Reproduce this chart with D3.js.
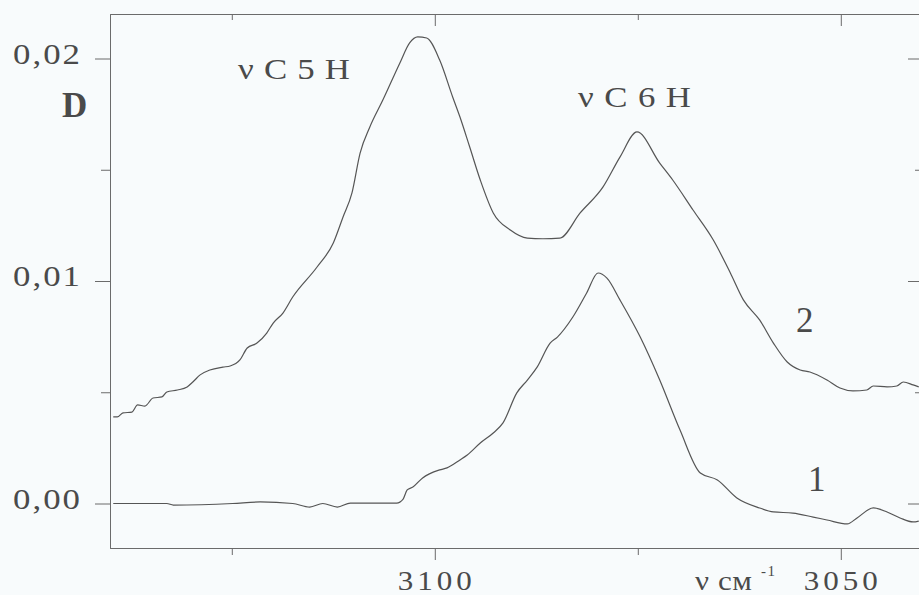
<!DOCTYPE html>
<html>
<head>
<meta charset="utf-8">
<script src="https://cdn.jsdelivr.net/npm/d3@7"></script>
<style>
  body { margin: 0; background: #f8fbfc; }
  svg { display: block; }
  .axis path, .axis line { stroke: #6b6b6b; stroke-width: 1; }
  text { font-family: "Liberation Serif", "Times New Roman", serif; fill: #4a4a4a; }
</style>
</head>
<body>
<div id="chart"></div>
<script>
// Spectrum 2 (upper curve): wavenumber, cm-1 and optical density D
const curve2Wn = [3139.6, 3139.1, 3138.4, 3137.3, 3136.6, 3135.7, 3134.7, 3133.6, 3133.0, 3131.7,
  3130.5, 3129.8, 3128.9, 3127.7, 3126.1, 3125.2, 3124.0, 3123.1, 3121.9, 3120.7,
  3119.9, 3118.7, 3117.5, 3114.5, 3112.5, 3111.3, 3110.2, 3109.2, 3108.0, 3106.4,
  3104.3, 3103.1, 3102.1, 3101.0, 3099.4, 3097.8, 3096.9, 3095.7, 3094.4, 3092.8,
  3090.7, 3088.6, 3086.7, 3084.6, 3082.1, 3079.3, 3077.2, 3075.1, 3072.3, 3070.7,
  3068.2, 3065.7, 3063.6, 3062.0, 3060.0, 3058.3, 3056.6, 3055.0, 3053.8, 3051.7,
  3050.1, 3048.5, 3046.8, 3046.0, 3044.3, 3043.1, 3042.3, 3041.1, 3040.4];
const curve2D = [0.00389, 0.00389, 0.00407, 0.00411, 0.00443, 0.00438, 0.00474, 0.00479, 0.00501, 0.00510,
  0.00524, 0.00546, 0.00578, 0.00600, 0.00613, 0.00618, 0.00645, 0.00699, 0.00721, 0.00766,
  0.00811, 0.00856, 0.00928, 0.01063, 0.01171, 0.01288, 0.01396, 0.01575, 0.01692, 0.01813,
  0.01980, 0.02070, 0.02097, 0.02092, 0.01993, 0.01827, 0.01737, 0.01602, 0.01454, 0.01306,
  0.01229, 0.01193, 0.01190, 0.01193, 0.01306, 0.01422, 0.01557, 0.01670, 0.01530, 0.01454,
  0.01319, 0.01184, 0.01036, 0.00915, 0.00825, 0.00721, 0.00636, 0.00600, 0.00591, 0.00555,
  0.00519, 0.00506, 0.00510, 0.00528, 0.00524, 0.00528, 0.00546, 0.00533, 0.00524];

// Spectrum 1 (lower curve)
const curve1Wn = [3139.6, 3133.0, 3132.2, 3124.9, 3121.5, 3117.5, 3115.4, 3113.8, 3112.0, 3110.4,
  3106.7, 3104.7, 3103.9, 3103.4, 3102.7, 3101.5, 3099.4, 3098.5, 3096.9, 3096.0,
  3094.4, 3092.8, 3091.6, 3089.9, 3088.6, 3087.4, 3085.8, 3084.9, 3083.0, 3081.3,
  3079.9, 3078.8, 3077.2, 3074.7, 3072.3, 3069.8, 3067.3, 3065.2, 3062.8, 3060.0,
  3058.3, 3055.9, 3053.4, 3051.7, 3049.2, 3048.0, 3046.0, 3044.3, 3042.7, 3041.1, 3040.4];
const curve1D = [0.00000, 0.00000, -0.00007, 0.00000, 0.00007, 0.00000, -0.00016, 0.00000, -0.00016, 0.00002,
  0.00002, 0.00002, 0.00020, 0.00061, 0.00074, 0.00115, 0.00151, 0.00160, 0.00196, 0.00218,
  0.00272, 0.00317, 0.00362, 0.00497, 0.00555, 0.00613, 0.00721, 0.00748, 0.00838, 0.00946,
  0.01036, 0.01013, 0.00915, 0.00748, 0.00555, 0.00330, 0.00137, 0.00106, 0.00025, -0.00020,
  -0.00038, -0.00043, -0.00061, -0.00074, -0.00092, -0.00065, -0.00020, -0.00038, -0.00065, -0.00083, -0.00079];

// Ticks
const xMajorTicks = [3100, 3050];
const xMinorTicks = [3125, 3075];
const yMajorTicks = [0, 0.01, 0.02];
const yMinorTicks = [0.005, 0.015];

const width = 919, height = 595;
const margin = { top: 14, right: -3, bottom: 47, left: 110 };

const svg = d3.select("#chart")
  .append("svg")
  .attr("width", width)
  .attr("height", height);

const x = d3.scaleLinear()
  .domain([3140, 3040])
  .range([margin.left, width - margin.right]);

const y = d3.scaleLinear()
  .domain([-0.002, 0.022])
  .range([height - margin.bottom, margin.top]);

const yFmt = d => d3.format(".2f")(d).replace(".", ",");

// Frame with ticks on every side
function addAxis(axis, tx, ty) {
  return svg.append("g")
    .attr("class", "axis")
    .attr("transform", `translate(${tx},${ty})`)
    .call(axis);
}
const bottomY = height - margin.bottom;
const rightX = width - margin.right;

addAxis(d3.axisBottom(x).tickValues(xMajorTicks).tickSize(12).tickSizeOuter(0).tickFormat(""), 0, bottomY);
addAxis(d3.axisBottom(x).tickValues(xMinorTicks).tickSize(7).tickSizeOuter(0).tickFormat(""), 0, bottomY);
addAxis(d3.axisTop(x).tickValues(xMajorTicks).tickSize(-12).tickSizeOuter(0).tickFormat(""), 0, margin.top);
addAxis(d3.axisTop(x).tickValues(xMinorTicks).tickSize(-6).tickSizeOuter(0).tickFormat(""), 0, margin.top);
addAxis(d3.axisLeft(y).tickValues(yMajorTicks).tickSize(15).tickSizeOuter(0).tickFormat(""), margin.left, 0);
addAxis(d3.axisLeft(y).tickValues(yMinorTicks).tickSize(9).tickSizeOuter(0).tickFormat(""), margin.left, 0);
addAxis(d3.axisRight(y).tickValues(yMajorTicks).tickSize(-14).tickSizeOuter(0).tickFormat(""), rightX, 0);
addAxis(d3.axisRight(y).tickValues(yMinorTicks).tickSize(-7).tickSizeOuter(0).tickFormat(""), rightX, 0);

// Text helper: the scanned lettering is wide and loosely spaced
function label(txt, px, py, size, opts = {}) {
  const sx = opts.sx || 1;
  const t = svg.append("text")
    .attr("transform", `translate(${px},${py}) scale(${sx},1)`)
    .attr("font-size", size)
    .attr("text-anchor", opts.anchor || "start")
    .text(txt);
  if (opts.len) t.attr("textLength", opts.len / sx).attr("lengthAdjust", "spacing");
  if (opts.weight) t.attr("font-weight", opts.weight);
  return t;
}

// Tick labels
yMajorTicks.forEach(d => label(yFmt(d), 80, y(d) + 5, 29, { anchor: "end", sx: 1.2, len: 67 }));
xMajorTicks.forEach(d => label(d, x(d), 590, 27, { anchor: "middle", sx: 1.15, len: 74 }));

// Curves
const line = d3.line()
  .x(d => x(d[0]))
  .y(d => y(d[1]))
  .curve(d3.curveMonotoneX);

const curves = [
  d3.zip(curve1Wn, curve1D),
  d3.zip(curve2Wn, curve2D)
];

svg.selectAll(".spectrum")
  .data(curves)
  .enter()
  .append("path")
  .attr("class", "spectrum")
  .attr("d", line)
  .attr("fill", "none")
  .attr("stroke", "#555")
  .attr("stroke-width", 1.2)
  .attr("stroke-linejoin", "round");

// Annotations
label("D", 62, 117, 35, { weight: "bold" });
label("νC5H", 238, 79, 29, { sx: 1.2, len: 112 });
label("νC6H", 578, 107, 29, { sx: 1.2, len: 113 });
label("ν см", 695, 590, 27, { sx: 1.15, len: 57 });
label("-1", 761, 576, 15, { len: 14 });
label("2", 796, 332, 35);
label("1", 808, 491, 35);
</script>
</body>
</html>
